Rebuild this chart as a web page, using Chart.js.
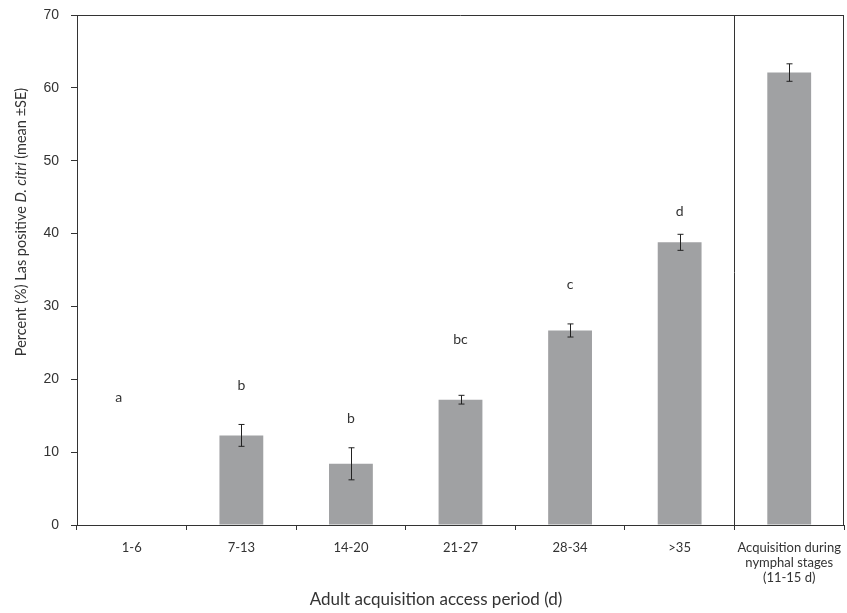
<!DOCTYPE html>
<html>
<head>
<meta charset="utf-8">
<script src="https://cdn.jsdelivr.net/npm/chart.js@4.4.1/dist/chart.umd.min.js"></script>
<style>
  html, body { margin: 0; padding: 0; background: #fff; }
  #wrap { width: 847px; height: 613px; }
</style>
</head>
<body>
<div id="wrap"><canvas id="chart"></canvas></div>
<script>
// categories (x axis)
const periods = ['1-6', '7-13', '14-20', '21-27', '28-34', '>35', ['Acquisition during', 'nymphal stages', '(11-15 d)']];
// mean percent Las positive
const meanPositive = [0, 12.3, 8.4, 17.2, 26.7, 38.8, 62.1];
// standard error
const stdError = [0, 1.5, 2.2, 0.6, 0.9, 1.1, 1.2];
// significance letters and where they sit (y value)
const sigLetters = ['a', 'b', 'b', 'bc', 'c', 'd', ''];
const letterY = [17.5, 19.2, 14.6, 25.4, 33.0, 43.0, 0];
const yTicks = [0, 10, 20, 30, 40, 50, 60, 70];

const textColor = '#333333';

// error bars, letters, frame, separator and axis titles
const extras = {
  id: 'extras',
  afterDatasetsDraw(chart) {
    const ctx = chart.ctx;
    const x = chart.scales.x, y = chart.scales.y;
    const area = chart.chartArea;
    ctx.save();

    // error bars
    ctx.strokeStyle = '#222';
    ctx.lineWidth = 1;
    meanPositive.forEach((v, i) => {
      const se = stdError[i];
      if (!se) return;
      const cx = Math.round(x.getPixelForValue(i)) + 0.5;
      const top = y.getPixelForValue(v + se);
      const bot = y.getPixelForValue(v - se);
      ctx.beginPath();
      ctx.moveTo(cx, top); ctx.lineTo(cx, bot);
      ctx.moveTo(cx - 3, top); ctx.lineTo(cx + 3, top);
      ctx.moveTo(cx - 3, bot); ctx.lineTo(cx + 3, bot);
      ctx.stroke();
    });

    // letters ('a' sits a little left of its slot in the original)
    ctx.fillStyle = textColor;
    ctx.font = '14px Lato';
    ctx.textAlign = 'center';
    ctx.textBaseline = 'middle';
    sigLetters.forEach((s, i) => {
      if (!s) return;
      const dx = i === 0 ? -13 : 0;
      ctx.fillText(s, x.getPixelForValue(i) + dx, y.getPixelForValue(letterY[i]));
    });

    // frame top + right
    ctx.strokeStyle = '#333';
    ctx.lineWidth = 1;
    ctx.beginPath();
    ctx.moveTo(area.left, area.top + 0.5);
    ctx.lineTo(area.right, area.top + 0.5);
    ctx.moveTo(area.right - 0.5, area.top);
    ctx.lineTo(area.right - 0.5, area.bottom);
    ctx.stroke();

    // separator between adult periods and nymphal stages
    const sx = Math.round((x.getPixelForValue(5) + x.getPixelForValue(6)) / 2) + 0.5;
    ctx.beginPath();
    ctx.moveTo(sx, area.top);
    ctx.lineTo(sx, area.bottom + 5);
    ctx.stroke();

    // x axis title
    ctx.font = '17px Lato';
    ctx.textAlign = 'center';
    ctx.fillText('Adult acquisition access period (d)', 436, 600);

    // y axis title with italic species name
    const parts = [
      { t: 'Percent (%) Las positive ', f: '14.5px Lato' },
      { t: 'D. citri', f: 'italic 14.5px Lato' },
      { t: ' (mean \u00B1SE)', f: '14.5px Lato' }
    ];
    let total = 0;
    parts.forEach(p => { ctx.font = p.f; total += ctx.measureText(p.t).width; });
    ctx.translate(21, 222);
    ctx.rotate(-Math.PI / 2);
    ctx.textAlign = 'left';
    let px = -total / 2;
    parts.forEach(p => {
      ctx.font = p.f;
      ctx.fillText(p.t, px, 0);
      px += ctx.measureText(p.t).width;
    });
    ctx.restore();
  }
};

new Chart(document.getElementById('chart'), {
  type: 'bar',
  data: {
    labels: periods,
    datasets: [{
      data: meanPositive,
      backgroundColor: '#a0a1a3',
      borderWidth: 0,
      barPercentage: 0.4,
      categoryPercentage: 1.0
    }]
  },
  options: {
    responsive: true,
    maintainAspectRatio: false,
    animation: false,
    layout: { padding: { top: 15, right: 3, left: 0, bottom: 0 } },
    plugins: { legend: { display: false }, tooltip: { enabled: false } },
    scales: {
      x: {
        afterFit(scale) { scale.height = 88; scale.paddingLeft = 0; scale.paddingRight = 0; },
        grid: { drawOnChartArea: false, drawTicks: true, tickLength: 5, color: '#333', offset: true },
        border: { color: '#333', width: 1 },
        ticks: { color: textColor, font: { family: 'Lato', size: 13, lineHeight: 1.15 }, padding: 10, maxRotation: 0, autoSkip: false }
      },
      y: {
        min: 0,
        max: 70,
        afterFit(scale) { scale.width = 77; scale.paddingTop = 0; scale.paddingBottom = 0; },
        afterBuildTicks(scale) { scale.ticks = yTicks.map(v => ({ value: v })); },
        grid: { drawOnChartArea: false, drawTicks: true, tickLength: 6, color: '#333' },
        border: { color: '#333', width: 1 },
        ticks: { color: textColor, font: { family: 'Liberation Sans', size: 14 }, padding: 12 }
      }
    }
  },
  plugins: [extras]
});
</script>
</body>
</html>
